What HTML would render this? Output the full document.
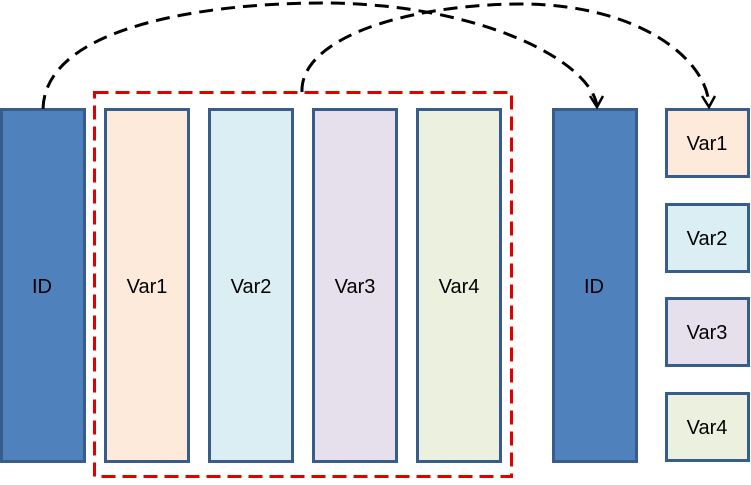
<!DOCTYPE html>
<html><head><style>body{margin:0;background:#fff}</style></head><body>
<svg width="751" height="480" xmlns="http://www.w3.org/2000/svg" font-family="Liberation Sans, sans-serif" font-size="20">
<g stroke="#385D8A" stroke-width="3">
<rect x="1.5" y="109.5" width="83" height="352" fill="#4F81BD"/>
<rect x="105.5" y="109.5" width="83" height="352" fill="#FDEADA"/>
<rect x="209.5" y="109.5" width="83" height="352" fill="#DAEEF3"/>
<rect x="313.5" y="109.5" width="83" height="352" fill="#E5E0EC"/>
<rect x="417.5" y="109.5" width="83" height="352" fill="#EBF1DE"/>
<rect x="553.5" y="109.5" width="83" height="352" fill="#4F81BD"/>
<rect x="666.5" y="109.5" width="82" height="67" fill="#FDEADA"/>
<rect x="666.5" y="204.5" width="82" height="67" fill="#DAEEF3"/>
<rect x="666.5" y="298.5" width="82" height="67" fill="#E5E0EC"/>
<rect x="666.5" y="393.5" width="82" height="67" fill="#EBF1DE"/>
</g>
<rect x="94.5" y="92.5" width="417" height="384" fill="none" stroke="#E00000" stroke-width="3" stroke-dasharray="14,7"/>
<g fill="none" stroke="#000" stroke-width="3" stroke-dasharray="14,8">
<path d="M43,109 C45,20 230,2 330,3 C480,5 590,60 597,106"/>
<path d="M302,92 C300,40 400,5 520,4 C640,4 708,60 709,106"/>
</g>
<g fill="none" stroke="#000" stroke-width="2.5">
<path d="M590,96 L597,107 L603,96"/>
<path d="M702,96 L709,107 L715,96"/>
</g>
<g fill="#000" text-anchor="middle">
<text x="42" y="293">ID</text>
<text x="147" y="293">Var1</text>
<text x="251" y="293">Var2</text>
<text x="355" y="293">Var3</text>
<text x="459" y="293">Var4</text>
<text x="594" y="293">ID</text>
<text x="707" y="150">Var1</text>
<text x="707" y="245">Var2</text>
<text x="707" y="339">Var3</text>
<text x="707" y="434">Var4</text>
</g>
</svg>
</body></html>
